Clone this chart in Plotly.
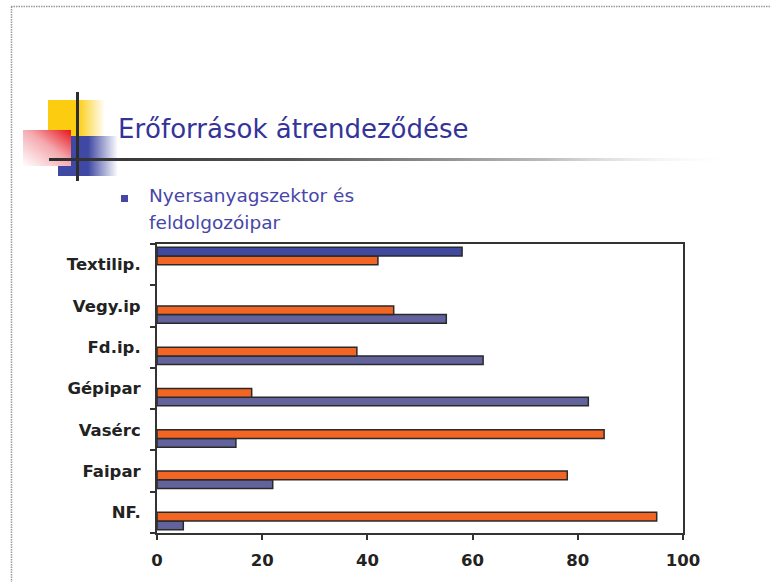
import base64
import plotly.graph_objects as go

# ---------------- data ----------------
categories = ["NF.", "Faipar", "Vasérc", "Gépipar", "Fd.ip.", "Vegy.ip", "Textilip."]
series_blue = [5, 22, 15, 82, 62, 55, None]
series_orange = [95, 78, 85, 18, 38, 45, None]
textil_orange = [None, None, None, None, None, None, 42]
textil_blue = [None, None, None, None, None, None, 58]
x_ticks = [0, 20, 40, 60, 80, 100]

title_text = "Erőforrások átrendeződése"
bullet_lines = ["Nyersanyagszektor és", "feldolgozóipar"]

# ---------------- geometry helpers ----------------
W_PAGE, H_PAGE = 771, 582
ML, MR, MT, MB = 157, 88, 244, 49
PW = W_PAGE - ML - MR
PH = H_PAGE - MT - MB


def px2x(px):
    return (px - ML) / PW


def py2y(py):
    return (H_PAGE - MB - py) / PH


ORANGE = "#f26522"
BLUE = "#62639c"
BLUE2 = "#4048a0"
EDGE = "#2a2a2a"

fig = go.Figure()
for vals, col in [(series_blue, BLUE), (series_orange, ORANGE),
                  (textil_orange, ORANGE), (textil_blue, BLUE2)]:
    fig.add_trace(go.Bar(
        y=categories, x=vals, orientation="h",
        marker=dict(color=col, line=dict(color=EDGE, width=1.5)),
        showlegend=False, hoverinfo="x+y"))

fig.update_layout(
    width=W_PAGE, height=H_PAGE,
    margin=dict(l=ML, r=MR, t=MT, b=MB, pad=0),
    paper_bgcolor="white", plot_bgcolor="white",
    barmode="group", bargap=0.16, bargroupgap=0,
    font=dict(family="DejaVu Sans", color="#222222"),
)
fig.update_xaxes(
    range=[0, 100], tickvals=x_ticks, ticktext=[str(v) for v in x_ticks],
    showgrid=False, zeroline=False,
    showline=True, linecolor="#333333", linewidth=2, mirror=True,
    ticks="outside", ticklen=5, tickwidth=1.5, tickcolor="#333333",
    tickfont=dict(family="DejaVu Sans", size=16.5, color="#222222", weight="bold"),
    ticklabelstandoff=6,
)
fig.update_yaxes(
    type="category", categoryorder="array", categoryarray=categories,
    showgrid=False, zeroline=False,
    showline=True, linecolor="#333333", linewidth=2, mirror=True,
    ticks="outside", tickson="boundaries", ticklen=5, tickwidth=1.5,
    tickcolor="#333333",
    tickfont=dict(family="DejaVu Sans", size=16.5, color="#222222", weight="bold"),
    ticklabelstandoff=11,
)

# ---------------- slide decoration (svg) ----------------
svg = f'''<svg xmlns="http://www.w3.org/2000/svg" width="{W_PAGE}" height="{H_PAGE}" viewBox="0 0 {W_PAGE} {H_PAGE}">
<defs>
<linearGradient id="gy" x1="0" y1="0" x2="1" y2="0">
<stop offset="0" stop-color="#fccc10"/><stop offset="0.52" stop-color="#fccc10"/>
<stop offset="1" stop-color="#fccc10" stop-opacity="0"/></linearGradient>
<linearGradient id="gb" x1="0" y1="0" x2="1" y2="0">
<stop offset="0" stop-color="#3f48a2"/><stop offset="0.5" stop-color="#3f48a2"/>
<stop offset="1" stop-color="#3f48a2" stop-opacity="0"/></linearGradient>
<linearGradient id="gr" x1="1" y1="0" x2="0" y2="1">
<stop offset="0" stop-color="#e8141c"/><stop offset="0.45" stop-color="#f4a8ae"/>
<stop offset="1" stop-color="#ffffff"/></linearGradient>
<linearGradient id="gl" x1="0" y1="0" x2="1" y2="0">
<stop offset="0" stop-color="#2d2d2d"/><stop offset="0.35" stop-color="#555555"/>
<stop offset="0.72" stop-color="#bbbbbb"/><stop offset="1" stop-color="#ffffff" stop-opacity="0"/></linearGradient>
</defs>
<rect x="48" y="100" width="57" height="37" fill="url(#gy)"/>
<rect x="58" y="136" width="60" height="40" fill="url(#gb)"/>
<rect x="23" y="130" width="48" height="36" fill="url(#gr)"/>
<rect x="76" y="92" width="3" height="89" fill="#2d2d2d"/>
<rect x="49" y="158" width="690" height="3" fill="url(#gl)"/>
<line x1="11" y1="6.5" x2="771" y2="6.5" stroke="#999999" stroke-width="1.5" stroke-dasharray="1.5,1"/>
<line x1="11.5" y1="6.5" x2="11.5" y2="582" stroke="#999999" stroke-width="1.5" stroke-dasharray="1.5,1"/>
</svg>'''
src = "data:image/svg+xml;base64," + base64.b64encode(svg.encode("utf-8")).decode("ascii")
fig.add_layout_image(dict(
    source=src, xref="paper", yref="paper",
    x=px2x(0), y=py2y(0), sizex=W_PAGE / PW, sizey=H_PAGE / PH,
    xanchor="left", yanchor="top", sizing="stretch", layer="above"))

# ---------------- title & bullet ----------------
fig.add_annotation(
    text=title_text, xref="paper", yref="paper",
    x=px2x(116), y=py2y(128.5), xanchor="left", yanchor="middle",
    showarrow=False, font=dict(family="DejaVu Sans", size=26, color="#333399"))
for i, line in enumerate(bullet_lines):
    fig.add_annotation(
        text=line, xref="paper", yref="paper",
        x=px2x(147), y=py2y(196 + i * 26.6), xanchor="left", yanchor="middle",
        showarrow=False, font=dict(family="DejaVu Sans", size=18.5, color="#4646a8"))
fig.add_shape(type="rect", xref="paper", yref="paper",
              x0=px2x(121), x1=px2x(128), y0=py2y(195), y1=py2y(202),
              fillcolor="#4646a8", line=dict(width=0))

fig.write_html("out.html", config={"displayModeBar": False},
               post_script="document.body.style.margin='0';document.body.style.overflow='hidden';")
